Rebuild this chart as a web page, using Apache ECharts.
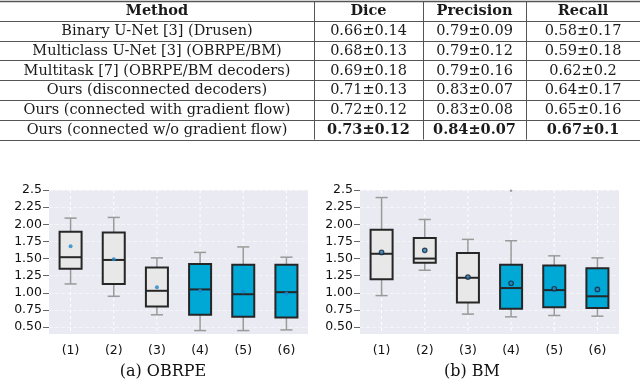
<!DOCTYPE html>
<html>
<head>
<meta charset="utf-8">
<script src="https://cdn.jsdelivr.net/npm/echarts@6/dist/echarts.min.js"></script>
<style>
html, body { margin: 0; padding: 0; background: #fff; }
#main { width: 640px; height: 381px; }
</style>
</head>
<body>
<div id="main"></div>
<script>
// table
const header = ['Method', 'Dice', 'Precision', 'Recall']
const methods = [
    'Binary U-Net [3] (Drusen)',
    'Multiclass U-Net [3] (OBRPE/BM)',
    'Multitask [7] (OBRPE/BM decoders)',
    'Ours (disconnected decoders)',
    'Ours (connected with gradient flow)',
    'Ours (connected w/o gradient flow)'
]
const dice = ['0.66±0.14', '0.68±0.13', '0.69±0.18', '0.71±0.13', '0.72±0.12', '0.73±0.12']
const precision = ['0.79±0.09', '0.79±0.12', '0.79±0.16', '0.83±0.07', '0.83±0.08', '0.84±0.07']
const recall = ['0.58±0.17', '0.59±0.18', '0.62±0.2', '0.64±0.17', '0.65±0.16', '0.67±0.1']
const bestRow = 5

// boxplots
const groups = ['(1)', '(2)', '(3)', '(4)', '(5)', '(6)']
const yTicks = [0.5, 0.75, 1.0, 1.25, 1.5, 1.75, 2.0, 2.25, 2.5]

const obrpeLow = [1.13, 0.95, 0.68, 0.45, 0.45, 0.46]
const obrpeQ1 = [1.35, 1.13, 0.80, 0.68, 0.65, 0.64]
const obrpeMed = [1.52, 1.48, 1.03, 1.05, 0.98, 1.01]
const obrpeQ3 = [1.89, 1.88, 1.37, 1.42, 1.41, 1.41]
const obrpeHigh = [2.09, 2.10, 1.51, 1.59, 1.67, 1.52]
const obrpeMean = [1.68, 1.49, 1.08, 1.03, 1.02, 0.99]

const bmLow = [0.96, 1.33, 0.69, 0.65, 0.67, 0.66]
const bmQ1 = [1.20, 1.44, 0.86, 0.77, 0.79, 0.78]
const bmMed = [1.57, 1.50, 1.22, 1.07, 1.04, 0.95]
const bmQ3 = [1.92, 1.80, 1.58, 1.41, 1.40, 1.36]
const bmHigh = [2.39, 2.07, 1.78, 1.76, 1.54, 1.51]
const bmMean = [1.59, 1.62, 1.23, 1.14, 1.06, 1.05]
const bmOutliers = [[3, 2.49]]

const boxFill = ['#e8e8e8', '#e8e8e8', '#e8e8e8', '#00a8d6', '#00a8d6', '#00a8d6']

const chart = echarts.init(document.getElementById('main'))

// table drawn as graphic
const colX = [0, 314, 423, 526, 640]
const rowTop = 1
const rowH = 19.8
const serif = 'DejaVu Serif'
let tableEls = []
const nRows = methods.length + 1
for (let r = 0; r <= nRows; r++) {
    let y = Math.round(rowTop + r * rowH) + 0.5
    tableEls.push({
        type: 'line',
        shape: { x1: 0, y1: y, x2: 640, y2: y },
        style: { stroke: '#555', lineWidth: r === 0 ? 1.5 : 1 }
    })
}
for (let c = 1; c < colX.length - 1; c++) {
    tableEls.push({
        type: 'line',
        shape: { x1: colX[c] + 0.5, y1: rowTop, x2: colX[c] + 0.5, y2: rowTop + nRows * rowH },
        style: { stroke: '#555', lineWidth: 1 }
    })
}
const rows = [header].concat(methods.map((m, i) => [m, dice[i], precision[i], recall[i]]))
rows.forEach((row, r) => {
    row.forEach((txt, c) => {
        let bold = r === 0 || (r - 1 === bestRow && c > 0)
        tableEls.push({
            type: 'text',
            x: (colX[c] + colX[c + 1]) / 2,
            y: rowTop + (r + 0.5) * rowH + 0.5,
            style: {
                text: txt,
                fill: '#1a1a1a',
                font: (bold ? 'bold ' : '') + '14.5px "' + serif + '"',
                align: 'center',
                verticalAlign: 'middle'
            }
        })
    })
})

// box with gray whiskers, half-width caps
function renderBox(params, api) {
    let i = api.value(0)
    let x = api.coord([i, 1])[0]
    let band = api.size([1, 0])[0]
    let bw = band * 0.51
    let cw = bw * 0.55
    let cs = params.coordSys
    let yLow = api.coord([i, api.value(1)])[1]
    let yQ1 = api.coord([i, api.value(2)])[1]
    let yMed = api.coord([i, api.value(3)])[1]
    let yQ3 = api.coord([i, api.value(4)])[1]
    let yHigh = api.coord([i, api.value(5)])[1]
    let whisker = { stroke: '#9a9a9a', lineWidth: 1.5 }
    let edge = { stroke: '#262626', lineWidth: 2 }
    return {
        type: 'group',
        children: [
            { type: 'line', shape: { x1: x, y1: cs.y, x2: x, y2: cs.y + cs.height },
              style: { stroke: '#ffffff', lineWidth: 1, lineDash: [3, 3] } },
            { type: 'line', shape: { x1: x, y1: yHigh, x2: x, y2: yQ3 }, style: whisker },
            { type: 'line', shape: { x1: x, y1: yQ1, x2: x, y2: yLow }, style: whisker },
            { type: 'line', shape: { x1: x - cw / 2, y1: yHigh, x2: x + cw / 2, y2: yHigh }, style: whisker },
            { type: 'line', shape: { x1: x - cw / 2, y1: yLow, x2: x + cw / 2, y2: yLow }, style: whisker },
            { type: 'rect', shape: { x: x - bw / 2, y: yQ3, width: bw, height: yQ1 - yQ3 },
              style: { fill: boxFill[i], stroke: edge.stroke, lineWidth: edge.lineWidth } },
            { type: 'line', shape: { x1: x - bw / 2, y1: yMed, x2: x + bw / 2, y2: yMed }, style: edge }
        ]
    }
}

const grids = [
    { left: 49, width: 259, top: 190, height: 144, show: true, backgroundColor: '#eaeaf2', borderWidth: 0 },
    { left: 360, width: 259, top: 190, height: 144, show: true, backgroundColor: '#eaeaf2', borderWidth: 0 }
]

const xAxes = grids.map((g, k) => ({
    type: 'category',
    gridIndex: k,
    data: groups,
    axisLine: { show: false },
    axisTick: { show: false },
    splitLine: { show: false },
    axisLabel: { color: '#111', fontSize: 12.5, fontFamily: 'DejaVu Sans', margin: 10 }
}))

const yAxes = grids.map((g, k) => ({
    type: 'value',
    gridIndex: k,
    min: 0.4,
    max: 2.5,
    axisLine: { show: false },
    axisTick: { show: true, length: 6, customValues: yTicks, lineStyle: { color: '#666' } },
    axisLabel: {
        customValues: yTicks,
        color: '#111',
        fontSize: 12.5,
        fontFamily: 'DejaVu Sans',
        margin: 7,
        formatter: v => (v === 2.5 ? '2.5' : v.toFixed(2))
    },
    splitLine: { show: true, lineStyle: { color: 'rgba(255,255,255,0.5)', width: 1, type: 'dashed' } }
}))

function boxData(low, q1, med, q3, high) {
    return low.map((v, i) => [i, low[i], q1[i], med[i], q3[i], high[i]])
}

let option = {
    animation: false,
    grid: grids,
    xAxis: xAxes,
    yAxis: yAxes,
    graphic: tableEls.concat([
        { type: 'text', x: 163, y: 372, style: { text: '(a) OBRPE', fill: '#111', font: '16px "DejaVu Serif"', align: 'center', verticalAlign: 'middle' } },
        { type: 'text', x: 472, y: 372, style: { text: '(b) BM', fill: '#111', font: '16px "DejaVu Serif"', align: 'center', verticalAlign: 'middle' } }
    ]),
    series: [
        {
            type: 'custom', xAxisIndex: 0, yAxisIndex: 0,
            renderItem: renderBox,
            encode: { x: 0, y: [1, 2, 3, 4, 5] },
            data: boxData(obrpeLow, obrpeQ1, obrpeMed, obrpeQ3, obrpeHigh)
        },
        {
            type: 'scatter', xAxisIndex: 0, yAxisIndex: 0, z: 5,
            symbolSize: 4,
            itemStyle: { color: '#1f86cc' },
            data: obrpeMean.map((v, i) => [i, v])
        },
        {
            type: 'custom', xAxisIndex: 1, yAxisIndex: 1,
            renderItem: renderBox,
            encode: { x: 0, y: [1, 2, 3, 4, 5] },
            data: boxData(bmLow, bmQ1, bmMed, bmQ3, bmHigh)
        },
        {
            type: 'scatter', xAxisIndex: 1, yAxisIndex: 1, z: 5,
            symbolSize: 4.5,
            itemStyle: { color: '#2a7fb8', borderColor: '#15263a', borderWidth: 1.2 },
            data: bmMean.map((v, i) => [i, v])
        },
        {
            type: 'scatter', xAxisIndex: 1, yAxisIndex: 1, z: 5,
            symbolSize: 2.5,
            itemStyle: { color: '#888' },
            data: bmOutliers
        }
    ]
}
chart.setOption(option, true)
</script>
</body>
</html>
